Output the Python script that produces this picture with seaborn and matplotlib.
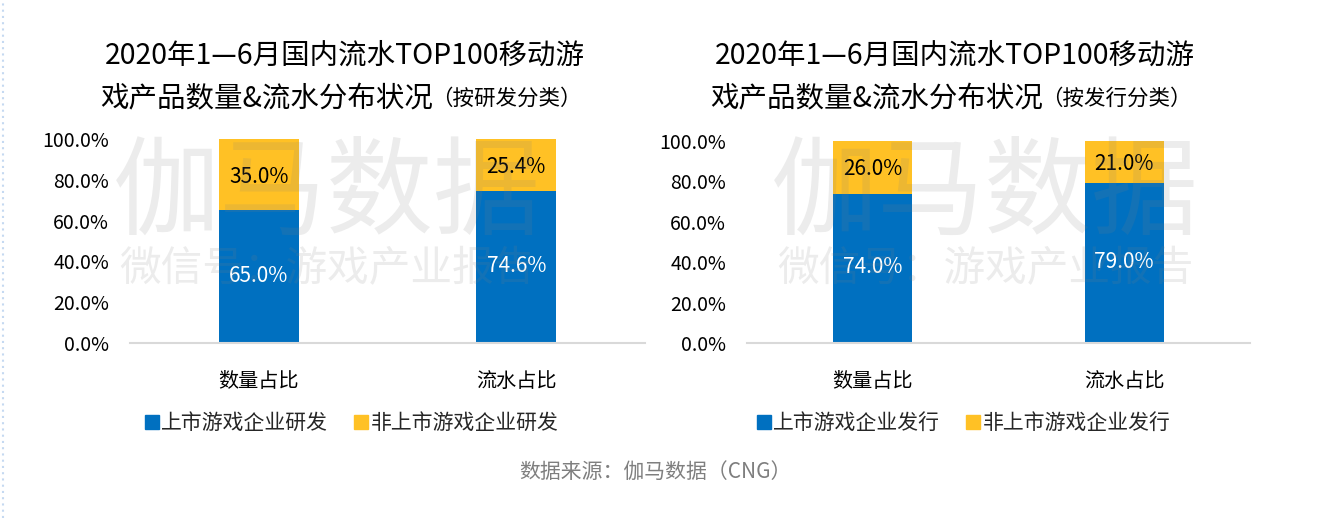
import matplotlib
matplotlib.use("Agg")
import matplotlib.pyplot as plt
import seaborn as sns
import pandas as pd
from matplotlib.lines import Line2D

categories = ["数量占比", "流水占比"]
left_listed = [65.0, 74.6]
left_unlisted = [35.0, 25.4]
right_listed = [74.0, 79.0]
right_unlisted = [26.0, 21.0]
left_series = ["上市游戏企业研发", "非上市游戏企业研发"]
right_series = ["上市游戏企业发行", "非上市游戏企业发行"]
left_title = ["2020年1—6月国内流水TOP100移动游", "戏产品数量&流水分布状况", "（按研发分类）"]
right_title = ["2020年1—6月国内流水TOP100移动游", "戏产品数量&流水分布状况", "（按发行分类）"]
yticks = [0, 20, 40, 60, 80, 100]
source = "数据来源：伽马数据（CNG）"

sns.set_theme(style="white")
plt.rcParams['font.family'] = ['Noto Sans CJK SC', 'DejaVu Sans']

BLUE = "#0070C0"
YELLOW = "#FFC125"
W, H = 1318, 518
fig = plt.figure(figsize=(13.18, 5.18), dpi=100)

def fx(px):
    return px / W

def fy(py):
    return 1 - py / H

def panel(rect, listed, unlisted, series, title, title_cx, leg_x, bw):
    ax = fig.add_axes(rect)
    totals = [a + b for a, b in zip(listed, unlisted)]
    df_tot = pd.DataFrame({"cat": categories, "v": totals})
    df_l = pd.DataFrame({"cat": categories, "v": listed})
    sns.barplot(data=df_tot, x="cat", y="v", color=YELLOW, width=bw, ax=ax,
                saturation=1, edgecolor="none")
    sns.barplot(data=df_l, x="cat", y="v", color=BLUE, width=bw, ax=ax,
                saturation=1, edgecolor="none")
    ax.set_xlim(-0.5, 1.5)
    ax.set_ylim(0, 100)
    ax.set_yticks(yticks)
    ax.set_yticklabels([f"{t:.1f}%" for t in yticks], fontsize=14, color="#000000")
    ax.set_xticks(range(len(categories)))
    ax.set_xticklabels(categories, fontsize=14.5, color="#000000")
    ax.tick_params(axis="x", pad=20, length=0)
    ax.tick_params(axis="y", pad=15, length=0)
    ax.set_xlabel("")
    ax.set_ylabel("")
    for s in ["top", "right", "left"]:
        ax.spines[s].set_visible(False)
    ax.spines["bottom"].set_color("#d9d9d9")
    ax.spines["bottom"].set_linewidth(1.5)
    ax.grid(False)
    for i, (a, b) in enumerate(zip(listed, unlisted)):
        ax.text(i, a / 2 + 0.5, f"{a:.1f}%", ha="center", va="center", fontsize=15, color="white")
        ax.text(i, a + b / 2 - 1, f"{b:.1f}%", ha="center", va="center", fontsize=15, color="black")
    # titles
    fig.text(fx(title_cx), fy(56), title[0], ha="center", va="center", fontsize=20.5, color="black")
    fig.text(fx(title_cx - 78), fy(98), title[1], ha="center", va="center", fontsize=20.5, color="black")
    fig.text(fx(title_cx + 86), fy(99), title[2], ha="left", va="center", fontsize=15.5, color="black")
    # legend
    handles = [Line2D([], [], marker="s", linestyle="none", markersize=10, color=c) for c in (BLUE, YELLOW)]
    fig.legend(handles, series, loc="center left", bbox_to_anchor=(fx(leg_x), fy(423)), ncol=2,
               frameon=False, fontsize=15, handletextpad=0.05, columnspacing=1.2,
               handlelength=0.8, borderpad=0)
    return ax

ax1 = panel([fx(130), fy(343), fx(515), (343 - 139) / H], left_listed, left_unlisted,
            left_series, left_title, 345, 133, 0.31)
ax2 = panel([fx(747), fy(343), fx(503), (343 - 141) / H], right_listed, right_unlisted,
            right_series, right_title, 955, 745, 0.314)

# watermarks
for cx in (327, 985):
    fig.text(fx(cx), fy(195), "伽马数据", ha="center", va="center", fontsize=77,
             color="#808080", alpha=0.15, zorder=10)
    fig.text(fx(cx), fy(270), "微信号：游戏产业报告", ha="center", va="center", fontsize=30,
             color="#808080", alpha=0.15, zorder=10)

fig.text(fx(655), fy(472), source, ha="center", va="center", fontsize=15, color="#7f7f7f")

# left dotted edge
fig.add_artist(Line2D([fx(3), fx(3)], [0, 1], color="#c5d9f1", linestyle=(0, (1, 2)), linewidth=1.5))

fig.savefig("out.png", dpi=100, facecolor="white")
